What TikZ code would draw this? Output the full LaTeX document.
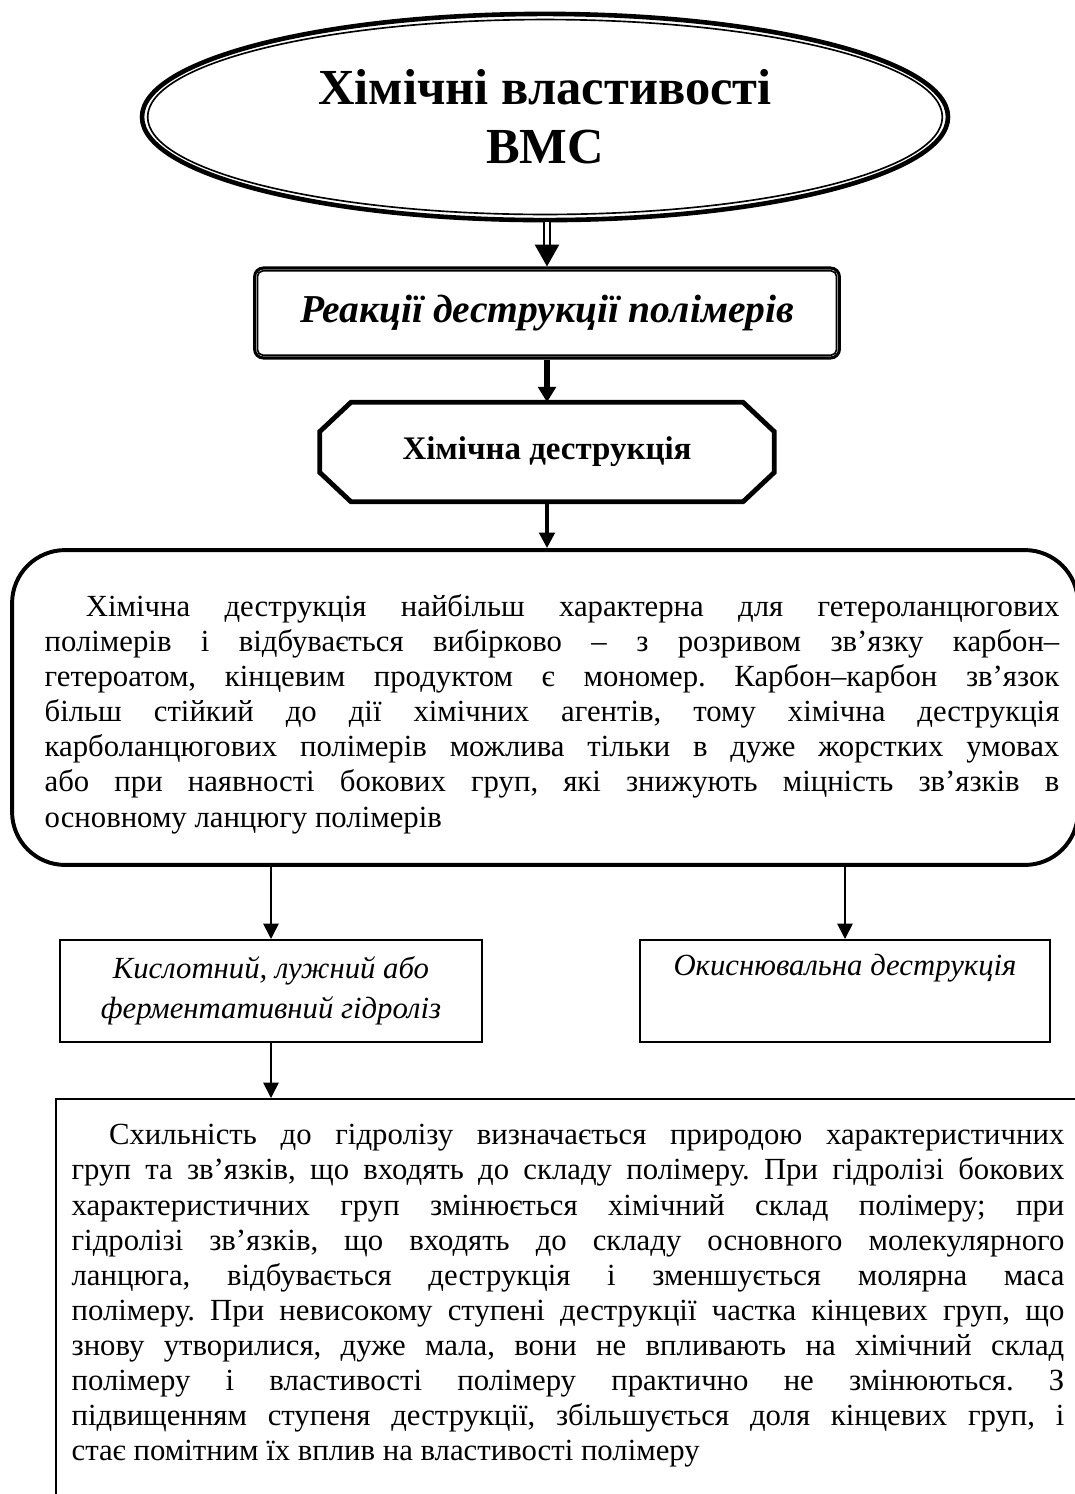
\documentclass[tikz,border=0pt]{standalone}
\usepackage{fontspec}
\setmainfont{Liberation Serif}
\usetikzlibrary{arrows.meta,shapes.geometric}
\frenchspacing

\tikzset{
  every node/.style={font=\fontsize{14}{16}\selectfont},
  titleoval/.style={ellipse, draw, line width=2.1pt, minimum width=12.9cm, minimum height=3.3cm,
    inner sep=0pt, align=center, font=\fontsize{23}{27}\selectfont\bfseries},
  reactbox/.style={draw, line width=1.4pt, rounded corners=4pt, minimum width=9.36cm,
    minimum height=1.44cm, font=\fontsize{18}{20}\selectfont\bfseries\itshape},
  octbox/.style={minimum width=7.26cm, minimum height=1.58cm, font=\fontsize{15}{17}\selectfont\bfseries},
  octline/.style={line width=2.2pt, line join=miter},
  bigbox/.style={draw, line width=1.8pt, rounded corners=0.85cm},
  textblock/.style={align=justify, inner sep=0pt},
  smallbox/.style={draw, line width=1pt, minimum height=1.63cm, align=center, inner sep=0pt,
    font=\fontsize{14}{18}\selectfont\itshape},
  dblarrow/.style={double, double distance=1.8pt, line width=1.1pt, -{Triangle[length=10pt,width=11pt]}},
  thickarrow/.style={line width=2.4pt, -{Triangle[length=7pt,width=8pt]}},
  midarrow/.style={line width=1.5pt, -{Triangle[length=7pt,width=7pt]}},
  thinarrow/.style={line width=0.8pt, -{Triangle[length=7pt,width=7pt]}}
}

\begin{document}
\begin{tikzpicture}[x=0.016cm, y=-0.016cm]
  \useasboundingbox (0,0) rectangle (1075,1494);

  % title oval with thin inner line
  \node[titleoval] (title) at (545,117) {Хімічні властивості\\ВМС};
  \node[ellipse, draw, line width=0.75pt, minimum width=12.72cm, minimum height=3.12cm] (titlein) at (title.center) {};

  % double framed box
  \node[reactbox] (react) at (547,313) {Реакції деструкції полімерів};
  \draw[line width=0.75pt, rounded corners=2.5pt] ([shift={(0.07cm,-0.07cm)}]react.north west)
    rectangle ([shift={(-0.07cm,0.07cm)}]react.south east);

  % octagon
  \node[octbox] (chem) at (547,452) {Хімічна деструкція};
  \draw[octline] ([xshift=0.5cm]chem.north west) -- ([xshift=-0.5cm]chem.north east)
    -- ([yshift=-0.47cm]chem.north east) -- ([yshift=0.47cm]chem.south east)
    -- ([xshift=-0.5cm]chem.south east) -- ([xshift=0.5cm]chem.south west)
    -- ([yshift=0.47cm]chem.south west) -- ([yshift=-0.47cm]chem.north west) -- cycle;

  % rounded box with text
  \node[bigbox, minimum width=17.06cm, minimum height=5.04cm] (chembox) at (545,707.5) {};
  \node[textblock, text width=16.24cm] (chemtxt) at (552,714) {%
    \hspace*{0.66cm}Хімічна деструкція найбільш характерна для гетероланцюгових\linebreak
    полімерів і відбувається вибірково – з розривом зв’язку карбон–\linebreak
    гетероатом, кінцевим продуктом є мономер. Карбон–карбон зв’язок\linebreak
    більш стійкий до дії хімічних агентів, тому хімічна деструкція\linebreak
    карболанцюгових полімерів можлива тільки в дуже жорстких умовах\linebreak
    або при наявності бокових груп, які знижують міцність зв’язків в\linebreak
    основному ланцюгу полімерів};

  % two kinds of destruction
  \node[smallbox, minimum width=6.75cm] (hydro) at (271,991) {Кислотний, лужний або\\ферментативний гідроліз};
  \node[smallbox, minimum width=6.56cm] (oxid) at (845,991) {Окиснювальна деструкція\\\strut};

  % lower box, runs off the page
  \node[draw, line width=0.8pt, anchor=north west, minimum width=16.9cm, minimum height=7cm] (hydbox) at (55,1098) {};
  \node[textblock, text width=15.89cm] (hydtxt) at (568,1296) {%
    \hspace*{0.6cm}Схильність до гідролізу визначається природою характеристичних\linebreak
    груп та зв’язків, що входять до складу полімеру. При гідролізі бокових\linebreak
    характеристичних груп змінюється хімічний склад полімеру; при\linebreak
    гідролізі зв’язків, що входять до складу основного молекулярного\linebreak
    ланцюга, відбувається деструкція і зменшується молярна маса\linebreak
    полімеру. При невисокому ступені деструкції частка кінцевих груп, що\linebreak
    знову утворилися, дуже мала, вони не впливають на хімічний склад\linebreak
    полімеру і властивості полімеру практично не змінюються. З\linebreak
    підвищенням ступеня деструкції, збільшується доля кінцевих груп, і\linebreak
    стає помітним їх вплив на властивості полімеру};

  % connectors
  \draw[dblarrow] (react.north |- title.south) -- (react.north);
  \draw[thickarrow] (react.south) -- (chem.north);
  \draw[midarrow] (chem.south) -- (chem.south |- chembox.north);
  \draw[thinarrow] (hydro.north |- chembox.south) -- (hydro.north);
  \draw[thinarrow] (oxid.north |- chembox.south) -- (oxid.north);
  \draw[thinarrow] (hydro.south) -- (hydro.south |- hydbox.north);
\end{tikzpicture}
\end{document}
